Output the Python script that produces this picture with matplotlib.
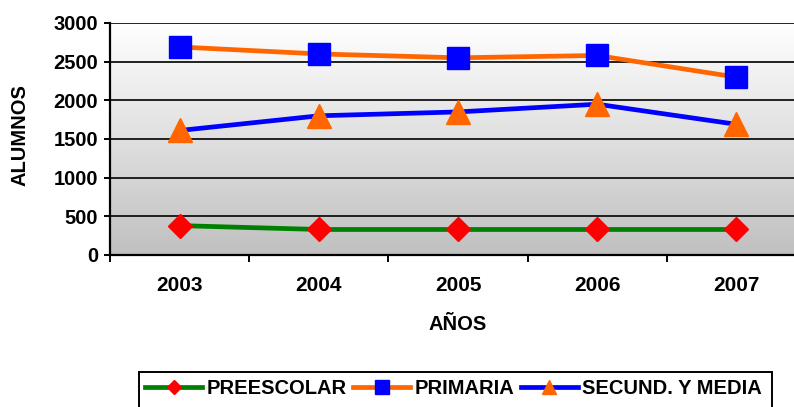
import matplotlib
matplotlib.use("Agg")
import matplotlib.pyplot as plt
import numpy as np
from matplotlib.colors import LinearSegmentedColormap
from matplotlib.patches import Rectangle

years = ["2003", "2004", "2005", "2006", "2007"]
preescolar = [380, 330, 330, 330, 330]
primaria = [2690, 2600, 2550, 2580, 2300]
secund = [1610, 1800, 1850, 1950, 1690]
y_ticks = [0, 500, 1000, 1500, 2000, 2500, 3000]

plt.rcParams['font.family'] = ['Liberation Sans', 'DejaVu Sans']
plt.rcParams['font.weight'] = 'bold'

W, H = 794, 407
fig = plt.figure(figsize=(W / 100, H / 100), dpi=100)
left, right, top, bottom = 110, 806, 23, 255
ax = fig.add_axes([left / W, 1 - bottom / H, (right - left) / W, (bottom - top) / H])

x = np.arange(len(years))
ax.set_xlim(-0.5, len(years) - 0.5)
ax.set_ylim(0, 3000)

# gradient background
cmap = LinearSegmentedColormap.from_list("g", ["#c0c0c0", "#ffffff"])
grad = np.linspace(0, 1, 256).reshape(-1, 1)
ax.imshow(grad, extent=[-0.5, len(years) - 0.5, 0, 3000], origin='lower',
          aspect='auto', cmap=cmap, zorder=0, interpolation='bilinear')

for yt in y_ticks[1:]:
    ax.axhline(yt, color='#111111', lw=1.3, zorder=1)

l1, = ax.plot(x, preescolar, color='#008000', lw=3.4, marker='D', ms=12,
              mfc='#ff0000', mec='#ff0000', zorder=3, label='PREESCOLAR')
l2, = ax.plot(x, primaria, color='#ff6600', lw=3.4, marker='s', ms=16,
              mfc='#0000ff', mec='#0000ff', zorder=3, label='PRIMARIA')
l3, = ax.plot(x, secund, color='#0000ff', lw=3.4, marker='^', ms=17,
              mfc='#ff6600', mec='#ff6600', zorder=3, label='SECUND. Y MEDIA')

for s in ['top', 'right']:
    ax.spines[s].set_visible(False)
for s in ['left', 'bottom']:
    ax.spines[s].set_linewidth(1.6)
    ax.spines[s].set_color('black')
    ax.spines[s].set_zorder(4)

ax.set_yticks(y_ticks)
ax.set_yticklabels([str(v) for v in y_ticks], fontsize=14.5, fontweight='bold')
ax.tick_params(axis='y', length=4.5, width=1.4, pad=4)

ax.set_xticks(x)
ax.set_xticklabels(years, fontsize=15, fontweight='bold')
ax.tick_params(axis='x', which='major', length=0, pad=15)
ax.set_xticks(np.arange(-0.5, len(years) + 0.5, 1), minor=True)
ax.tick_params(axis='x', which='minor', length=5, width=1.4, direction='out')

fig.text(20 / W, 1 - 135 / H, 'ALUMNOS', rotation=90, ha='center', va='center',
         fontsize=14.5, fontweight='bold')
fig.text(458 / W, 1 - 325 / H, 'AÑOS', ha='center', va='center',
         fontsize=14.5, fontweight='bold')

# legend
leg = fig.legend(handles=[l1, l2, l3], loc='center left',
                 bbox_to_anchor=(145 / W, 1 - 389 / H), ncol=3, frameon=False,
                 prop={'size': 14.5, 'weight': 'bold'}, handlelength=2.85,
                 handletextpad=0.22, columnspacing=0.3, markerscale=0.6,
                 borderpad=0, borderaxespad=0)
fig.add_artist(Rectangle((139 / W, 1 - 420 / H), (772 - 139) / W, (420 - 372) / H,
                         transform=fig.transFigure, fill=False, ec='black', lw=1.4))

fig.savefig('out.png', dpi=100)
